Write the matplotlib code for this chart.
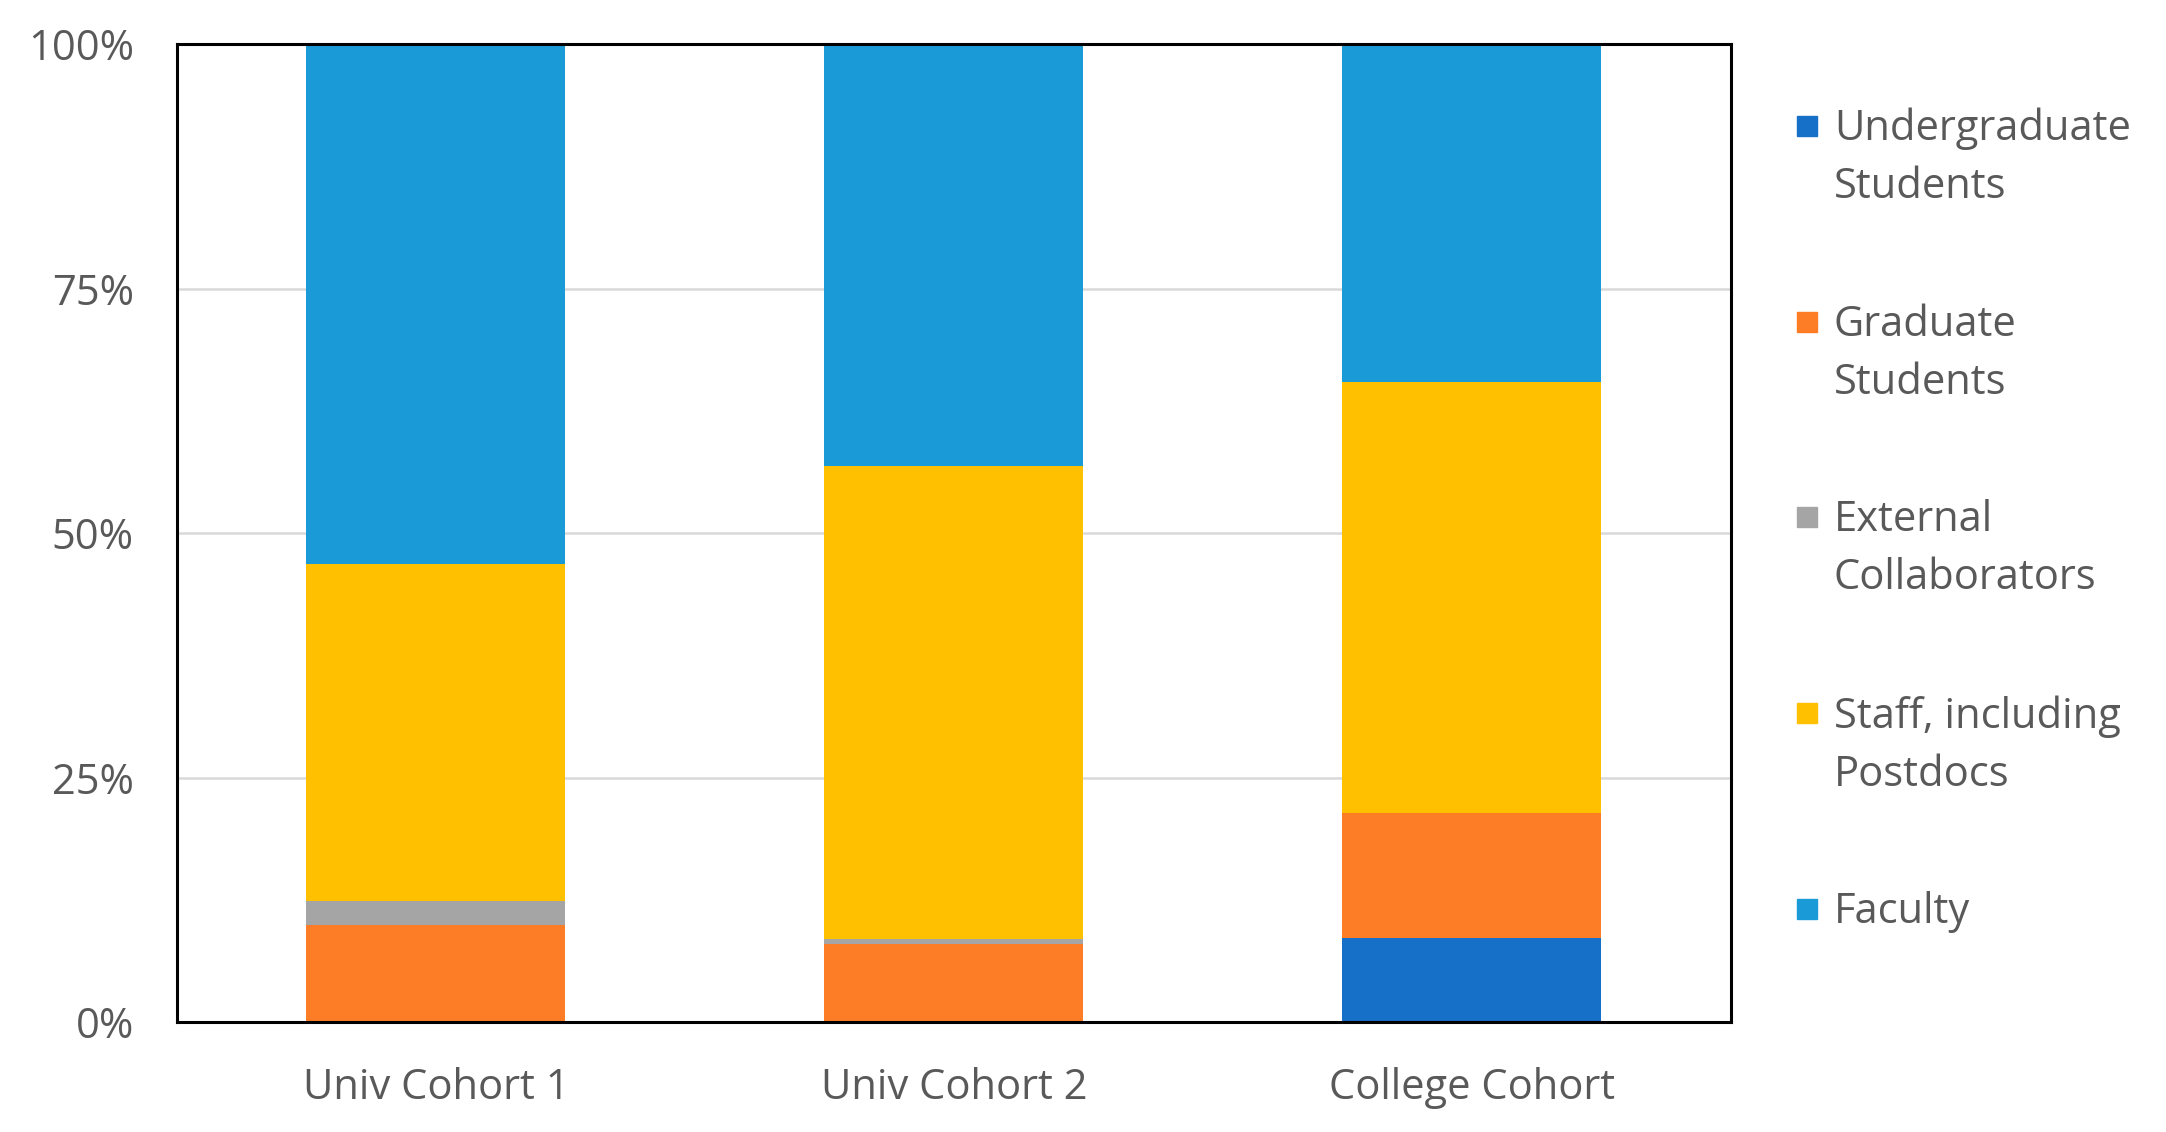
import matplotlib
matplotlib.use("Agg")
import matplotlib.pyplot as plt
import numpy as np
from matplotlib.patches import Rectangle
from matplotlib.ticker import FuncFormatter

# Share of respondents per cohort (percent), stacked bottom -> top
cohorts = ["Univ Cohort 1", "Univ Cohort 2", "College Cohort"]
undergrad = [0.0, 0.0, 8.6]
graduate = [9.9, 8.0, 12.8]
external = [2.5, 0.5, 0.0]
staff = [34.4, 48.4, 44.1]
faculty = [53.2, 43.1, 34.5]

series_labels = [
    "Undergraduate\nStudents",
    "Graduate\nStudents",
    "External\nCollaborators",
    "Staff, including\nPostdocs",
    "Faculty",
]
series_values = [undergrad, graduate, external, staff, faculty]
series_colors = ["#1670C8", "#FD7D26", "#A5A5A5", "#FFC000", "#1A9AD6"]

TEXT_COLOR = "#595959"
FONT_SIZE = 30
plt.rcParams["font.family"] = ["Open Sans", "DejaVu Sans"]

fig = plt.figure(figsize=(21.66, 11.32), dpi=100)
ax = fig.add_axes([0.0817, 0.097, 0.7173, 0.864])

x = np.arange(len(cohorts))
bottom = np.zeros(len(cohorts))
for vals, color in zip(series_values, series_colors):
    ax.bar(x, vals, width=0.5, bottom=bottom, color=color, linewidth=0, zorder=3)
    bottom += np.array(vals)

ax.set_xlim(-0.5, len(cohorts) - 0.5)
ax.set_ylim(0, 100)
ax.set_yticks([0, 25, 50, 75, 100])
ax.yaxis.set_major_formatter(FuncFormatter(lambda v, _: f"{v:.0f}%"))
ax.set_xticks(x)
ax.set_xticklabels(cohorts)
ax.tick_params(axis="both", length=0, labelsize=FONT_SIZE, labelcolor=TEXT_COLOR)
ax.tick_params(axis="y", pad=31)
ax.tick_params(axis="x", pad=32)
ax.grid(axis="y", color="#D9D9D9", linewidth=1.8, zorder=0)
ax.set_axisbelow(True)
for spine in ax.spines.values():
    spine.set_color("black")
    spine.set_linewidth(2.2)
    spine.set_zorder(4)

# legend drawn by hand so the swatch sits on the first text line
W, H = 2166, 1132
first_line_y = [126, 322, 517, 713, 909]
sw = 20
for label, color, yc in zip(series_labels, series_colors, first_line_y):
    fig.patches.append(Rectangle((1797 / W, (H - yc - sw / 2) / H), sw / W, sw / H,
                                 transform=fig.transFigure, color=color, figure=fig))
    fig.text(1834 / W, (H - yc + 18) / H, label, fontsize=FONT_SIZE, color=TEXT_COLOR,
             va="top", ha="left", linespacing=1.5)

fig.savefig("out.png", dpi=100)
